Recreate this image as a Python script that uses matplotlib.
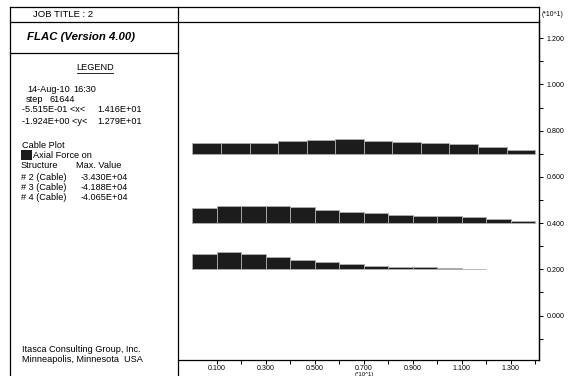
import numpy as np
import matplotlib
matplotlib.use("Agg")
import matplotlib.pyplot as plt
from matplotlib.lines import Line2D
from matplotlib.patches import Rectangle

plt.rcParams['font.family'] = ['Liberation Sans', 'DejaVu Sans']

# cable geometry (units of 10 m) and axial force per segment (N)
cable_names = ["# 2 (Cable)", "# 3 (Cable)", "# 4 (Cable)"]
cable_y = [0.7, 0.4, 0.2]
cable_len = [1.4, 1.4, 1.2]
force_c2 = [-2.68e4, -2.68e4, -2.68e4, -3.00e4, -3.26e4, -3.430e4,
            -3.18e4, -2.85e4, -2.60e4, -2.25e4, -1.68e4, -0.85e4]
force_c3 = [-3.71e4, -4.02e4, -4.188e4, -4.15e4, -3.79e4, -3.24e4, -2.77e4,
            -2.37e4, -2.06e4, -1.82e4, -1.59e4, -1.35e4, -1.02e4, -0.47e4]
force_c4 = [-3.69e4, -4.065e4, -3.60e4, -2.89e4, -2.12e4, -1.65e4,
            -1.25e4, -0.87e4, -0.63e4, -0.54e4, -0.40e4, -0.16e4]
max_values = ["-3.430E+04", "-4.188E+04", "-4.065E+04"]

x_ticks = [0.1, 0.2, 0.3, 0.4, 0.5, 0.6, 0.7, 0.8, 0.9, 1.0, 1.1, 1.2, 1.3, 1.4]
x_labels = ["0.100", "", "0.300", "", "0.500", "", "0.700", "", "0.900", "", "1.100", "", "1.300", ""]
y_ticks = [-0.1, 0.0, 0.1, 0.2, 0.3, 0.4, 0.5, 0.6, 0.7, 0.8, 0.9, 1.0, 1.1, 1.2]
y_labels = ["", "0.000", "", "0.200", "", "0.400", "", "0.600", "", "0.800", "", "1.000", "", "1.200"]

W, H = 574, 376
fig = plt.figure(figsize=(W / 100, H / 100), dpi=100)


def px(x, y):
    return x / W, 1 - y / H


def line(x0, y0, x1, y1, lw=0.9):
    a, b = px(x0, y0)
    c, d = px(x1, y1)
    fig.add_artist(Line2D([a, c], [b, d], transform=fig.transFigure, color="black", lw=lw))


def text(x, y, s, **kw):
    a, b = px(x, y)
    kw.setdefault("fontsize", 6.6)
    kw.setdefault("va", "center")
    fig.text(a, b, s, **kw)


# frame
line(10, 7, 539, 7)
line(10, 7, 10, 376)
line(178, 7, 178, 376)
line(10, 22, 539, 22)
line(10, 53, 178, 53)
line(539, 7, 539, 360)

# plot area
l, b = px(179, 360)
ax = fig.add_axes([l, b, 360 / W, 340 / H])
ax.set_xlim(-0.0551, 1.416)
ax.set_ylim(-0.1924, 1.279)

forces = [force_c2, force_c3, force_c4]
fmax = max(abs(f) for fs in forces for f in fs)
scale = 0.0757 / fmax
for y0, length, fs in zip(cable_y, cable_len, forces):
    n = len(fs)
    edges = np.linspace(0, length, n + 1)
    heights = np.abs(np.array(fs)) * scale
    ax.bar(edges[:-1], heights, width=np.diff(edges), bottom=y0, align="edge",
           color="#1c1c1c", edgecolor="#b0b0b0", linewidth=0.6)

for s in ["left", "top"]:
    ax.spines[s].set_visible(False)
for s in ["right", "bottom"]:
    ax.spines[s].set_linewidth(0.9)
ax.yaxis.tick_right()
ax.set_xticks(x_ticks)
ax.set_xticklabels(x_labels)
ax.set_yticks(y_ticks)
ax.set_yticklabels(y_labels)
ax.tick_params(axis="x", direction="out", length=3, width=0.7, labelsize=5.1, pad=0.5)
ax.tick_params(axis="y", direction="out", length=3, width=0.7, labelsize=5.1, pad=2.5)
ax.patch.set_visible(False)

text(364, 374.5, "(*10^1)", fontsize=4.3, ha="center")
text(542, 15, "(*10^1)", fontsize=4.9)

# legend panel
text(33, 14.5, "JOB TITLE : 2", fontsize=6.8)
text(27, 37, "FLAC (Version 4.00)", fontsize=8.2, fontweight="bold", fontstyle="italic")
text(95, 67, "LEGEND", fontsize=6.6, ha="center")
line(77, 72.5, 113, 72.5, lw=0.6)
text(27, 90, "14-Aug-10")
text(73, 90, "16:30")
text(26, 99, "step")
text(49, 99, "61644")
text(22, 110, "-5.515E-01 <x<")
text(97, 110, "1.416E+01")
text(22, 121, "-1.924E+00 <y<")
text(97, 121, "1.279E+01")
text(22, 145, "Cable Plot")
sx, sy = px(21, 160)
fig.add_artist(Rectangle((sx, sy), 11 / W, 10 / H, transform=fig.transFigure,
                         facecolor="#1c1c1c", edgecolor="none"))
text(33, 155, "Axial Force on")
text(21, 166, "Structure")
text(76, 166, "Max. Value")
for i, (name, val) in enumerate(zip(cable_names, max_values)):
    text(21, 177 + 10 * i, name)
    text(81, 177 + 10 * i, val)
text(22, 350, "Itasca Consulting Group, Inc.")
text(22, 360, "Minneapolis, Minnesota  USA")

fig.savefig("out.png", dpi=100)
